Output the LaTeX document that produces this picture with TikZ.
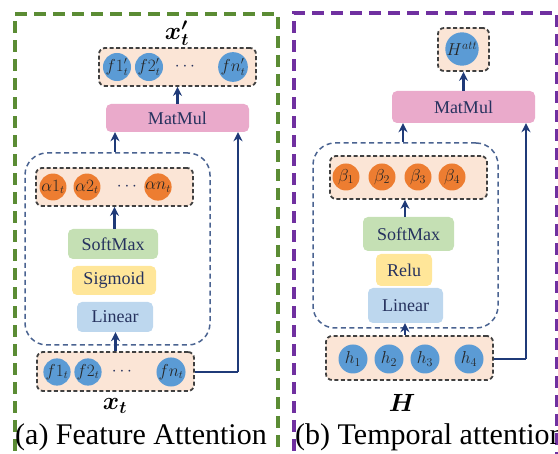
\documentclass[tikz,border=0pt]{standalone}
\usepackage{fontspec}
\setmainfont{Liberation Serif}
\usepackage{bm}
\usetikzlibrary{arrows.meta}

\definecolor{framegreen}{HTML}{5B8C34}
\definecolor{framepurple}{HTML}{7030A0}
\definecolor{peach}{HTML}{FBE5D6}
\definecolor{dotblue}{HTML}{5B9BD5}
\definecolor{dotorange}{HTML}{ED7D31}
\definecolor{mulpink}{HTML}{EAAACB}
\definecolor{smgreen}{HTML}{C5E0B4}
\definecolor{actyellow}{HTML}{FFE699}
\definecolor{linblue}{HTML}{BDD7EE}
\definecolor{labnavy}{HTML}{26325E}
\definecolor{arrnavy}{HTML}{1F3A78}
\definecolor{modblue}{HTML}{4A6391}

\tikzset{
  outerframe/.style={line width=3.2pt, dash pattern=on 12pt off 7pt},
  grpbox/.style={draw=black!75, fill=peach, line width=1.8pt,
    dash pattern=on 4pt off 2.5pt, rounded corners=6pt, inner sep=0pt},
  opbox/.style={rounded corners=5pt, inner sep=0pt, text=labnavy,
    font=\fontsize{18}{18}\selectfont},
  modbox/.style={draw=modblue, line width=1.5pt, dash pattern=on 5pt off 3.5pt,
    rounded corners=22pt, inner sep=0pt},
  bdot/.style={circle, fill=dotblue, inner sep=0pt, minimum size=25pt,
    text=black!85, font=\fontsize{16}{16}\selectfont},
  odot/.style={circle, fill=dotorange, inner sep=0pt, minimum size=26pt,
    text=black!85, font=\fontsize{16}{16}\selectfont},
  ellipsis/.style={inner sep=0pt, text=labnavy, font=\fontsize{18}{18}\selectfont},
  arr/.style={draw=arrnavy, line width=2.6pt, -{Stealth[length=9pt,width=9pt]}},
  link/.style={draw=arrnavy, line width=2.6pt},
  caption/.style={inner sep=0pt, anchor=west, font=\fontsize{30}{30}\selectfont},
  varlab/.style={inner sep=0pt}
}

\begin{document}
\begin{tikzpicture}[x=1pt, y=-1pt]
\useasboundingbox (0,0) rectangle (558,454);

% ---------- (a) feature attention ----------
\draw[outerframe, draw=framegreen] (15,470) -- (15,14) -- (278,14) -- (278,470);

\node[varlab, font=\fontsize{26}{26}\selectfont] (xtp) at (177,33) {$\bm{x'_t}$};
\node[grpbox, minimum width=157pt, minimum height=38pt] (outA) at (177.5,67) {};
\node[bdot, minimum size=23pt] (o1) at (117,67) {$f1'_t$};
\node[bdot, minimum size=23pt] (o2) at (149,67) {$f2'_t$};
\node[ellipsis] (o3) at (185,67) {$\cdots$};
\node[bdot, minimum size=23pt] (o4) at (233,67) {$fn'_t$};

\node[opbox, fill=mulpink, minimum width=143pt, minimum height=28pt] (mulA) at (177.5,118) {MatMul};

\node[modbox, minimum width=185pt, minimum height=192pt] (modA) at (117.5,249) {};
\node[grpbox, minimum width=157pt, minimum height=38pt] (alphaA) at (114.5,187) {};
\node[odot] (a1) at (53,187) {$\alpha1_t$};
\node[odot] (a2) at (87,187) {$\alpha2_t$};
\node[ellipsis] (a3) at (127,187) {$\cdots$};
\node[odot] (a4) at (158,187) {$\alpha n_t$};

\node[opbox, fill=smgreen, minimum width=90pt, minimum height=30pt] (smA) at (113,244) {SoftMax};
\node[opbox, fill=actyellow, minimum width=84pt, minimum height=29pt] (sig) at (114,280.5) {Sigmoid};
\node[opbox, fill=linblue, minimum width=76pt, minimum height=30pt] (linA) at (115,317) {Linear};

\node[grpbox, minimum width=157pt, minimum height=39pt] (inA) at (115.5,371.5) {};
\node[bdot] (f1) at (57,372) {$f1_t$};
\node[bdot] (f2) at (88,372) {$f2_t$};
\node[ellipsis] (f3) at (122,372) {$\cdots$};
\node[bdot] (f4) at (171,372) {$fn_t$};
\node[varlab, font=\fontsize{25}{25}\selectfont] (xt) at (115,406) {$\bm{x_t}$};

\node[caption] (capA) at (15,437) {(a) Feature Attention};

\coordinate (skipA) at (238,0);
\draw[arr] (mulA.north) -- (outA.south);
\draw[arr] ([xshift=-2.5pt]modA.north) -- ([xshift=-2.5pt]modA.north |- mulA.south);
\draw[arr] (smA.north -| alphaA.south) -- (alphaA.south);
\draw[arr] (inA.north) -- (inA.north |- linA.south);
\draw[link] (inA.east |- f4) -- (skipA |- f4);
\draw[arr] (skipA |- f4) -- (skipA |- mulA.south);

% ---------- (b) temporal attention ----------
\draw[outerframe, draw=framepurple] (294,470) -- (294,13) -- (557,13) -- (557,470);

\node[grpbox, minimum width=51pt, minimum height=43pt] (hattbox) at (463.5,49.5) {};
\node[bdot, minimum size=29pt, font=\fontsize{17}{17}\selectfont] (hatt) at (462,49) {$H^{att}$};

\node[opbox, fill=mulpink, minimum width=143pt, minimum height=32pt] (mulB) at (463.5,107) {MatMul};

\node[modbox, minimum width=185pt, minimum height=185pt] (modB) at (405.5,235.5) {};
\node[grpbox, minimum width=157pt, minimum height=43pt] (betaB) at (408.5,177.5) {};
\node[odot, minimum size=27pt, font=\fontsize{17}{17}\selectfont] (b1) at (346,177) {$\beta_1$};
\node[odot, minimum size=27pt, font=\fontsize{17}{17}\selectfont] (b2) at (382,177) {$\beta_2$};
\node[odot, minimum size=27pt, font=\fontsize{17}{17}\selectfont] (b3) at (418,177) {$\beta_3$};
\node[odot, minimum size=27pt, font=\fontsize{17}{17}\selectfont] (b4) at (452,177) {$\beta_4$};

\node[opbox, fill=smgreen, minimum width=91pt, minimum height=34pt] (smB) at (408.5,234) {SoftMax};
\node[opbox, fill=actyellow, minimum width=56pt, minimum height=32pt] (relu) at (404,270) {Relu};
\node[opbox, fill=linblue, minimum width=75pt, minimum height=35pt] (linB) at (405.5,305.5) {Linear};

\node[grpbox, minimum width=167pt, minimum height=44pt] (inB) at (409.5,358) {};
\node[bdot, minimum size=29pt, font=\fontsize{17}{17}\selectfont] (h1) at (353,359) {$h_1$};
\node[bdot, minimum size=29pt, font=\fontsize{17}{17}\selectfont] (h2) at (389,359) {$h_2$};
\node[bdot, minimum size=29pt, font=\fontsize{17}{17}\selectfont] (h3) at (425,359) {$h_3$};
\node[bdot, minimum size=29pt, font=\fontsize{17}{17}\selectfont] (h4) at (469,359) {$h_4$};
\node[varlab, font=\fontsize{23}{23}\selectfont] (Hl) at (402,403) {$\bm{H}$};

\node[caption] (capB) at (295,437) {(b) Temporal attention};

\coordinate (skipB) at (526,0);
\coordinate (colB) at (405,0);
\draw[arr] (mulB.north) -- (hattbox.south);
\draw[arr] ([xshift=-2.5pt]modB.north) -- ([xshift=-2.5pt]modB.north |- mulB.south);
\draw[arr] (colB |- smB.north) -- (colB |- betaB.south);
\draw[arr] (colB |- inB.north) -- (colB |- linB.south);
\draw[link] (inB.east |- h4) -- (skipB |- h4);
\draw[arr] (skipB |- h4) -- (skipB |- mulB.south);
\end{tikzpicture}
\end{document}
